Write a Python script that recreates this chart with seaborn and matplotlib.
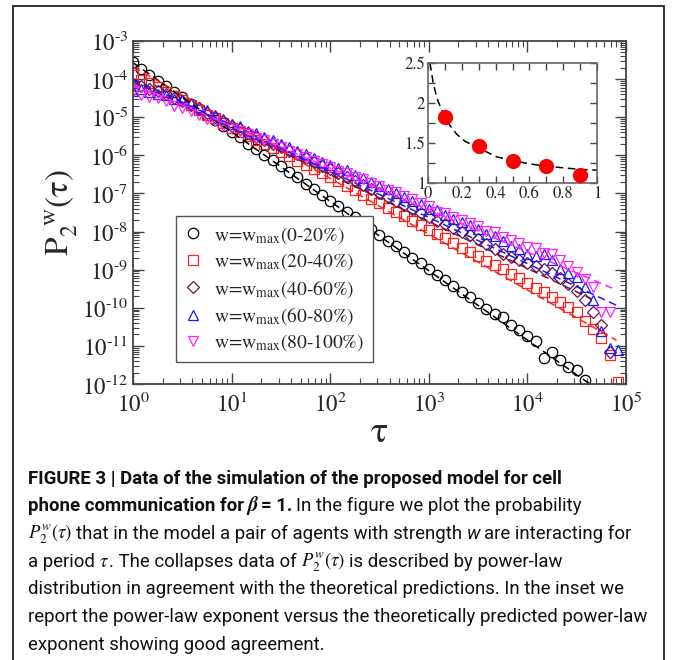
import numpy as np
import matplotlib
matplotlib.use('Agg')
import matplotlib.pyplot as plt
from matplotlib.patches import Rectangle
from matplotlib.ticker import (LogLocator, NullFormatter, MultipleLocator,
                               FormatStrFormatter, FuncFormatter)
import seaborn as sns

# log-binned durations tau, shared by all strength classes
tau = [1.00, 1.21, 1.47, 1.78, 2.15, 2.61, 3.16, 3.83, 4.64, 5.62, 6.81, 8.25,
       10.0, 12.1, 14.7, 17.8, 21.5, 26.1, 31.6, 38.3, 46.4, 56.2, 68.1, 82.5,
       100, 121, 147, 178, 215, 261, 316, 383, 464, 562, 681, 825,
       1000, 1210, 1470, 1780, 2150, 2610, 3160, 3830, 4640, 5620, 6810, 8250,
       1.00e4, 1.21e4, 1.47e4, 1.78e4, 2.15e4, 2.61e4, 3.16e4, 3.83e4, 4.64e4, 5.62e4, 6.81e4, 8.25e4]

# log10 P_2^w(tau)
log_p_0_20 = [-3.56, -3.74, -3.88, -4.04, -4.18, -4.34, -4.48, -4.64, -4.79, -4.94, -5.08, -5.24,
              -5.39, -5.53, -5.69, -5.84, -5.98, -6.13, -6.29, -6.43, -6.58, -6.74, -6.88, -7.04,
              -7.19, -7.33, -7.49, -7.63, -7.78, -7.94, -8.08, -8.24, -8.38, -8.53, -8.69, -8.83,
              -8.98, -9.14, -9.28, -9.43, -9.59, -9.73, -9.88, -10.04, -10.17, -10.24, -10.46, -10.59,
              -10.74, -10.87, -11.33, -11.16, -11.37, -11.56, -11.64, -11.90]
log_p_20_40 = [-3.90, -4.02, -4.10, -4.22, -4.33, -4.45, -4.56, -4.68, -4.80, -4.93, -5.03, -5.15,
               -5.27, -5.38, -5.48, -5.60, -5.70, -5.82, -5.92, -6.03, -6.14, -6.25, -6.35, -6.46,
               -6.57, -6.68, -6.80, -6.92, -7.03, -7.14, -7.26, -7.37, -7.49, -7.60, -7.72, -7.84,
               -7.95, -8.07, -8.18, -8.30, -8.42, -8.53, -8.65, -8.76, -8.87, -8.99, -9.11, -9.23,
               -9.35, -9.47, -9.59, -9.72, -9.85, -9.98, -10.12, -10.35, -10.55, -10.80, -11.25, -11.95]
log_p_40_60 = [-4.13, -4.17, -4.25, -4.32, -4.40, -4.49, -4.58, -4.67, -4.77, -4.88, -4.99, -5.11,
               -5.22, -5.32, -5.41, -5.51, -5.60, -5.69, -5.78, -5.88, -5.97, -6.07, -6.17, -6.27,
               -6.36, -6.46, -6.57, -6.67, -6.78, -6.88, -6.99, -7.09, -7.20, -7.31, -7.41, -7.52,
               -7.62, -7.72, -7.81, -7.91, -8.00, -8.10, -8.19, -8.32, -8.45, -8.58, -8.66, -8.74,
               -8.82, -8.90, -8.97, -9.08, -9.22, -9.38, -9.55, -9.80, -10.12, -10.45, -11.15]
log_p_60_80 = [-4.31, -4.27, -4.35, -4.38, -4.43, -4.52, -4.56, -4.63, -4.74, -4.82, -4.94, -5.05,
               -5.17, -5.24, -5.35, -5.42, -5.52, -5.60, -5.70, -5.78, -5.88, -5.96, -6.06, -6.17,
               -6.26, -6.33, -6.39, -6.52, -6.60, -6.70, -6.80, -6.89, -7.00, -7.09, -7.20, -7.29,
               -7.40, -7.44, -7.56, -7.66, -7.74, -7.83, -7.92, -8.06, -8.12, -8.25, -8.37, -8.46,
               -8.60, -8.63, -8.59, -8.75, -8.98, -9.08, -9.20, -9.45, -9.80, -10.60, -11.05, -11.10]
log_p_80_100 = [-4.35, -4.42, -4.48, -4.50, -4.58, -4.70, -4.76, -4.84, -4.93, -5.04, -5.10, -5.22,
                -5.30, -5.36, -5.44, -5.55, -5.60, -5.70, -5.78, -5.88, -5.96, -6.05, -6.14, -6.22,
                -6.31, -6.40, -6.47, -6.57, -6.62, -6.73, -6.80, -6.90, -6.96, -7.08, -7.15, -7.25,
                -7.34, -7.48, -7.50, -7.62, -7.70, -7.78, -7.86, -7.98, -8.02, -8.13, -8.22, -8.30,
                -8.40, -8.44, -8.55, -8.60, -8.75, -8.90, -9.05, -9.25, -9.45, -10.10, -10.10]

labels = [r'w=w$_{\mathrm{max}}$(0-20%)', r'w=w$_{\mathrm{max}}$(20-40%)',
          r'w=w$_{\mathrm{max}}$(40-60%)', r'w=w$_{\mathrm{max}}$(60-80%)',
          r'w=w$_{\mathrm{max}}$(80-100%)']

# power-law fits: (tau_start, tau_end), (P_start, P_end)
fit_tau = [(1, 4.7e4), (1, 8.0e4), (1, 4.5e4), (1, 8.7e4), (1, 7.2e4)]
fit_p = [(2.7e-4, 8.5e-13), (2.1e-4, 1.4e-11), (8.9e-5, 1.7e-10), (1.0e-4, 1.05e-10), (7.4e-5, 3.3e-10)]

# inset: measured exponent vs w and theoretical curve
inset_w = [0.1, 0.3, 0.5, 0.7, 0.9]
inset_exp = [1.83, 1.46, 1.27, 1.21, 1.10]
theory_w = [0.012, 0.02, 0.03, 0.04, 0.05, 0.06, 0.08, 0.10, 0.13, 0.17, 0.22, 0.30,
            0.40, 0.50, 0.60, 0.70, 0.80, 0.90, 1.00]
theory_exp = [2.50, 2.39, 2.26, 2.17, 2.09, 2.02, 1.92, 1.83, 1.72, 1.61, 1.52, 1.44,
              1.33, 1.28, 1.24, 1.21, 1.19, 1.17, 1.16]

colors = ['black', '#ff2020', '#6a1448', '#1a1aff', '#ff20ff']
markers = ['o', 's', 'D', '^', 'v']
msizes = [7.5, 7.0, 5.8, 7.5, 7.5]

sns.set_style('ticks')
plt.rcParams['font.family'] = ['STIXGeneral', 'DejaVu Serif']
plt.rcParams['mathtext.fontset'] = 'stix'
frame_col = '#444444'


def decade_label(v, pos):
    # 10^n with a short hyphen for negative exponents, as in the print
    n = int(round(np.log10(v)))
    exp = ('\u2010%d' % -n) if n < 0 else '%d' % n
    return r'$\mathdefault{10^{%s}}$' % exp


fig = plt.figure(figsize=(6.73, 6.60), dpi=100)
ax = fig.add_axes([133 / 673, 1 - 384 / 660, 493 / 673, 343 / 660])

series = [log_p_0_20, log_p_20_40, log_p_40_60, log_p_60_80, log_p_80_100]
for vals, lab, col, mk, ms in zip(series, labels, colors, markers, msizes):
    n = len(vals)
    sns.lineplot(x=tau[:n], y=10 ** np.array(vals), ax=ax, estimator=None, sort=False,
                 linestyle='', marker=mk, markersize=ms, mfc='none', mec=col,
                 mew=0.9, color=col, label=lab)

for (t0, t1), (p0, p1), col in zip(fit_tau, fit_p, colors):
    sns.lineplot(x=[t0, t1], y=[p0, p1], ax=ax, color=col, linestyle=(0, (5, 3)),
                 linewidth=1.1, legend=False, estimator=None)

ax.set_xscale('log')
ax.set_yscale('log')
ax.set_xlim(1, 1e5)
ax.set_ylim(1e-12, 1e-3)
ax.xaxis.set_major_locator(LogLocator(base=10, numticks=20))
ax.yaxis.set_major_locator(LogLocator(base=10, numticks=20))
ax.xaxis.set_minor_locator(LogLocator(base=10, subs=range(2, 10), numticks=100))
ax.yaxis.set_minor_locator(LogLocator(base=10, subs=range(2, 10), numticks=100))
ax.xaxis.set_major_formatter(FuncFormatter(decade_label))
ax.yaxis.set_major_formatter(FuncFormatter(decade_label))
ax.xaxis.set_minor_formatter(NullFormatter())
ax.yaxis.set_minor_formatter(NullFormatter())
ax.tick_params(which='both', direction='in', top=True, right=True, color=frame_col, labelsize=16.5)
ax.tick_params(which='major', length=8, width=1.0)
ax.tick_params(which='minor', length=4, width=0.8)
ax.tick_params(axis='x', pad=6)
for sp in ax.spines.values():
    sp.set_color(frame_col)
    sp.set_linewidth(1.3)
ax.set_xlabel('τ', fontsize=26, labelpad=0)
ax.set_ylabel(r'$\mathrm{P}_2^{\ \ \mathrm{w}}$(τ)', fontsize=24, labelpad=2)

handles, labs = ax.get_legend_handles_labels()
keep = [(h, l) for h, l in zip(handles, labs) if l.startswith('w=')]
leg = ax.legend([h for h, _ in keep], [l for _, l in keep], loc='lower left',
                bbox_to_anchor=(0.087, 0.064), borderaxespad=0, fontsize=14,
                frameon=True, fancybox=False, framealpha=1, edgecolor='#555555',
                handlelength=0.9, handletextpad=0.6, labelspacing=0.28, borderpad=0.45)
leg.get_frame().set_linewidth(1.0)

# inset
ins = fig.add_axes([428 / 673, 1 - 183 / 660, 169 / 673, 120 / 660])
sns.lineplot(x=theory_w, y=theory_exp, ax=ins, color='black', linestyle=(0, (5, 3)),
             linewidth=1.1, estimator=None, sort=False)
sns.scatterplot(x=inset_w, y=inset_exp, ax=ins, color='#ff0000', s=120, edgecolor='#ff0000',
                linewidth=0, zorder=3)
ins.set_xlim(0, 1)
ins.set_ylim(1, 2.5)
ins.xaxis.set_major_locator(MultipleLocator(0.2))
ins.xaxis.set_minor_locator(MultipleLocator(0.1))
ins.yaxis.set_major_locator(MultipleLocator(0.5))
ins.yaxis.set_minor_locator(MultipleLocator(0.25))
ins.xaxis.set_major_formatter(FormatStrFormatter('%g'))
ins.yaxis.set_major_formatter(FormatStrFormatter('%g'))
ins.tick_params(which='both', direction='in', top=True, right=True, color=frame_col, labelsize=12)
ins.tick_params(which='major', length=5, width=1.0, pad=2)
ins.tick_params(which='minor', length=5, width=1.0)
for sp in ins.spines.values():
    sp.set_color('#666666')
    sp.set_linewidth(1.2)

# outer frame of the figure panel
fig.add_artist(Rectangle((13 / 673, -0.02), 651 / 673, 1.02 - 6 / 660, transform=fig.transFigure,
                         fill=False, edgecolor='#222222', linewidth=1.3))

# caption: size chosen so the longest regular line spans the same width as in the print
renderer = fig.canvas.get_renderer()
cap_family = ['Roboto', 'DejaVu Sans']
probe = fig.text(0, 0, "report the power-law exponent versus the theoretically predicted power-law",
                 fontsize=10, family=cap_family)
cap_size = 10 * 621.0 / probe.get_window_extent(renderer=renderer).width
probe.remove()

base = dict(fontsize=cap_size, family=cap_family, color='#111111')
bold = dict(base, weight='bold')
ital = dict(base, style='italic')
mth = dict(base, math_fontfamily='stix')
beta = dict(base, family=['STIXGeneral'], weight='bold', style='italic', fontsize=cap_size * 1.1)
gap = 4.0
caption = [
    [("FIGURE 3 | Data of the simulation of the proposed model for cell", bold, 0)],
    [("phone communication for", bold, 0), ("β", beta, gap), ("= 1.", bold, 3),
     ("In the figure we plot the probability", base, gap)],
    [(r"$P_2^{w}(\tau)$", mth, 0), ("that in the model a pair of agents with strength", base, gap),
     ("w", ital, gap), ("are interacting for", base, gap)],
    [("a period", base, 0), (r"$\tau$", mth, gap), (". The collapses data of", base, 0),
     (r"$P_2^{w}(\tau)$", mth, gap), ("is described by power-law", base, gap)],
    [("distribution in agreement with the theoretical predictions. In the inset we", base, 0)],
    [("report the power-law exponent versus the theoretically predicted power-law", base, 0)],
    [("exponent showing good agreement.", base, 0)],
]
W, H = 673.0, 660.0
for i, pieces in enumerate(caption):
    baseline = 483.5 + i * 27.7
    x = 28.0
    for s, kw, g in pieces:
        x += g
        t = fig.text(x / W, 1 - baseline / H, s, ha='left', va='baseline', **kw)
        x = t.get_window_extent(renderer=renderer).x1

fig.savefig('out.png', dpi=100)
